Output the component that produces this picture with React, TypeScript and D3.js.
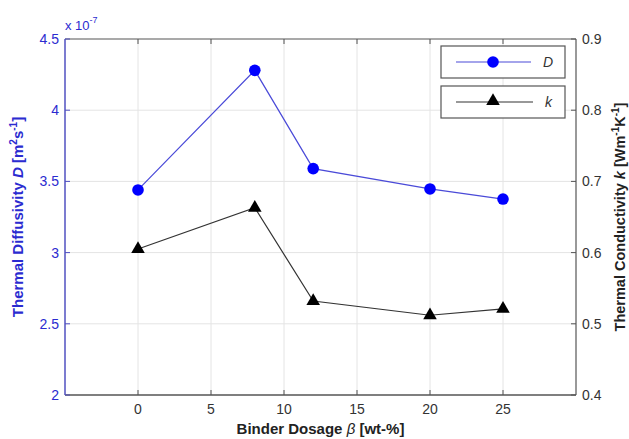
import React from 'react';
import * as d3 from 'd3';

const WIDTH = 629;
const HEIGHT = 439;
const MARGIN = { top: 39, bottom: 44, left: 65, right: 53 };

const DOSAGE = [0, 8, 12, 20, 25];
const DIFFUSIVITY = [3.44, 4.28, 3.59, 3.447, 3.376]; // x 10^-7 m^2/s
const CONDUCTIVITY = [0.605, 0.663, 0.532, 0.512, 0.521];
const X_TICKS = [0, 5, 10, 15, 20, 25];
const Y_LEFT_TICKS = [2, 2.5, 3, 3.5, 4, 4.5];
const Y_RIGHT_TICKS = [0.4, 0.5, 0.6, 0.7, 0.8, 0.9];

const FONT = 'Liberation Sans, Arial, sans-serif';
const BLUE_AXIS = '#5050c0';
const BLUE_TEXT = '#2b2bd0';
const GREY = '#555';

export default function App() {
    const x = d3.scaleLinear().domain([-5, 30]).range([MARGIN.left, WIDTH - MARGIN.right]);
    const yL = d3.scaleLinear().domain([2, 4.5]).range([HEIGHT - MARGIN.bottom, MARGIN.top]);
    const yR = d3.scaleLinear().domain([0.4, 0.9]).range([HEIGHT - MARGIN.bottom, MARGIN.top]);
    const x0 = MARGIN.left, x1 = WIDTH - MARGIN.right;
    const y0 = HEIGHT - MARGIN.bottom, y1 = MARGIN.top;

    const lineD = d3.line<number>().x((_, i) => x(DOSAGE[i])).y(d => yL(d));
    const lineK = d3.line<number>().x((_, i) => x(DOSAGE[i])).y(d => yR(d));
    const tri = d3.symbol().type(d3.symbolTriangle).size(80)();

    return (
        <svg width={WIDTH} height={HEIGHT} style={{ position: 'absolute', left: 0, top: 0, background: '#fff' }} fontFamily={FONT}>
            {/* grid */}
            {X_TICKS.map(t => (
                <line key={'gx' + t} x1={x(t)} x2={x(t)} y1={y0} y2={y1} stroke="#e4e4e4" strokeWidth={1} />
            ))}
            {Y_LEFT_TICKS.slice(1, -1).map(t => (
                <line key={'gy' + t} x1={x0} x2={x1} y1={yL(t)} y2={yL(t)} stroke="#e4e4e4" strokeWidth={1} />
            ))}

            {/* frame */}
            <line x1={x0} x2={x1} y1={y1} y2={y1} stroke={GREY} strokeWidth={1.2} />
            <line x1={x0} x2={x1} y1={y0} y2={y0} stroke={GREY} strokeWidth={1.5} />
            <line x1={x1} x2={x1} y1={y0} y2={y1} stroke={GREY} strokeWidth={1.2} />
            <line x1={x0} x2={x0} y1={y0} y2={y1} stroke={BLUE_AXIS} strokeWidth={1.5} />

            {/* x ticks */}
            {X_TICKS.map(t => (
                <g key={'xt' + t}>
                    <line x1={x(t)} x2={x(t)} y1={y0} y2={y0 - 5} stroke={GREY} />
                    <line x1={x(t)} x2={x(t)} y1={y1} y2={y1 + 5} stroke={GREY} />
                    <text x={x(t)} y={y0 + 19} textAnchor="middle" fontSize={14} fill="#333">{t}</text>
                </g>
            ))}
            {/* left ticks */}
            {Y_LEFT_TICKS.map(t => (
                <g key={'yl' + t}>
                    <line x1={x0} x2={x0 + 5} y1={yL(t)} y2={yL(t)} stroke={BLUE_AXIS} />
                    <text x={x0 - 6} y={yL(t) + 5} textAnchor="end" fontSize={14} fill={BLUE_TEXT}>{t}</text>
                </g>
            ))}
            {/* right ticks */}
            {Y_RIGHT_TICKS.map(t => (
                <g key={'yr' + t}>
                    <line x1={x1} x2={x1 - 5} y1={yR(t)} y2={yR(t)} stroke={GREY} />
                    <text x={x1 + 6} y={yR(t) + 5} textAnchor="start" fontSize={14} fill="#333">{t}</text>
                </g>
            ))}

            {/* exponent */}
            <text x={x0} y={30} fontSize={13} fill={BLUE_TEXT}>x 10<tspan dy={-7} fontSize={9}>-7</tspan></text>

            {/* series */}
            <path d={lineD(DIFFUSIVITY) || ''} fill="none" stroke="#4a4ad8" strokeWidth={1.2} />
            {DIFFUSIVITY.map((d, i) => (
                <circle key={'cd' + i} cx={x(DOSAGE[i])} cy={yL(d)} r={5.8} fill="#0000ff" />
            ))}
            <path d={lineK(CONDUCTIVITY) || ''} fill="none" stroke="#333" strokeWidth={1.2} />
            {CONDUCTIVITY.map((d, i) => (
                <path key={'tk' + i} d={tri || ''} transform={`translate(${x(DOSAGE[i])},${yR(d)})`} fill="#000" />
            ))}

            {/* legend */}
            <rect x={441} y={46} width={124} height={32} fill="#fff" stroke={GREY} strokeWidth={1.2} />
            <line x1={456} x2={531} y1={62} y2={62} stroke="#4a4ad8" strokeWidth={1.2} />
            <circle cx={493} cy={62} r={5.8} fill="#0000ff" />
            <text x={543} y={67} fontSize={14} fontStyle="italic" fill="#333">D</text>
            <rect x={441} y={86} width={124} height={32} fill="#fff" stroke={GREY} strokeWidth={1.2} />
            <line x1={456} x2={533} y1={102} y2={102} stroke="#333" strokeWidth={1.2} />
            <path d={tri || ''} transform="translate(493,101)" fill="#000" />
            <text x={545} y={107} fontSize={14} fontStyle="italic" fill="#333">k</text>

            {/* axis labels */}
            <text x={(x0 + x1) / 2} y={434} textAnchor="middle" fontSize={15} fontWeight="bold" fill="#222">
                Binder Dosage <tspan fontStyle="italic" fontWeight="normal">β</tspan> [wt-%]
            </text>
            <text transform={`translate(23,${(y0 + y1) / 2}) rotate(-90)`} textAnchor="middle" fontSize={15} fontWeight="bold" fill={BLUE_TEXT}>
                Thermal Diffusivity <tspan fontStyle="italic">D</tspan> [m<tspan dy={-6} fontSize={10}>2</tspan><tspan dy={6}>s</tspan><tspan dy={-6} fontSize={10}>-1</tspan><tspan dy={6}>]</tspan>
            </text>
            <text transform={`translate(625,${(y0 + y1) / 2}) rotate(-90)`} textAnchor="middle" fontSize={14.5} fontWeight="bold" fill="#222">
                Thermal Conductivity <tspan fontStyle="italic">k</tspan> [Wm<tspan dy={-6} fontSize={10}>-1</tspan><tspan dy={6}>K</tspan><tspan dy={-6} fontSize={10}>-1</tspan><tspan dy={6}>]</tspan>
            </text>
        </svg>
    );
}
